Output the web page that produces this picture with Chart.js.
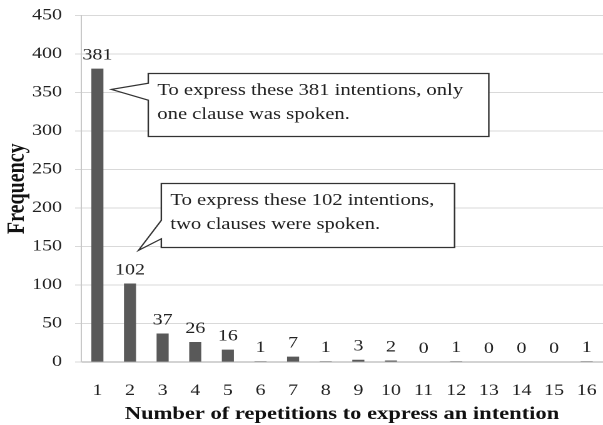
<!DOCTYPE html>
<html>
<head>
<meta charset="utf-8">
<script src="https://cdn.jsdelivr.net/npm/chart.js@4.4.0/dist/chart.umd.min.js"></script>
<style>
  html, body { margin: 0; padding: 0; background: #fff; overflow: hidden; }
  /* the reference figure is stretched horizontally, so the chart is drawn narrow and widened */
  #freqChart { transform: scaleX(1.251); transform-origin: 0 0; }
</style>
</head>
<body>
<canvas id="freqChart" width="482" height="425"></canvas>
<script>
// repetitions needed to express one intention
const repetitions = ["1", "2", "3", "4", "5", "6", "7", "8", "9", "10", "11", "12", "13", "14", "15", "16"];
const frequency = [381, 102, 37, 26, 16, 1, 7, 1, 3, 2, 0, 1, 0, 0, 0, 1];
const yTicks = [0, 50, 100, 150, 200, 250, 300, 350, 400, 450];

const callouts = [
  {
    lines: ["To express these 381 intentions, only", "one clause was spoken."],
    // box and pointer in data space: [category index, value]
    box: [1.56, 375, 12.0, 294],
    tip: [0.43, 354],
    base: [362, 340]
  },
  {
    lines: ["To express these 102 intentions,", "two clauses were spoken."],
    box: [1.96, 232, 10.95, 150],
    tip: [1.26, 145],
    base: [184, 160]
  }
];

const serif = "'Liberation Serif', 'Times New Roman', serif";

const labelsAndCallouts = {
  id: "labelsAndCallouts",
  afterDatasetsDraw(chart) {
    const ctx = chart.ctx;
    const meta = chart.getDatasetMeta(0);
    ctx.save();
    ctx.font = "16px " + serif;
    ctx.fillStyle = "#222";
    ctx.textAlign = "center";
    ctx.textBaseline = "alphabetic";
    meta.data.forEach((bar, i) => {
      ctx.fillText(String(frequency[i]), bar.x, bar.y - 9);
    });
    ctx.restore();
  },
  afterDraw(chart) {
    const ctx = chart.ctx;
    const xs = chart.scales.x, ys = chart.scales.y;
    ctx.save();
    callouts.forEach(c => {
      const l = xs.getPixelForValue(c.box[0]);
      const t = Math.round(ys.getPixelForValue(c.box[1])) + 0.5;
      const r = xs.getPixelForValue(c.box[2]);
      const b = Math.round(ys.getPixelForValue(c.box[3])) + 0.5;
      const tx = xs.getPixelForValue(c.tip[0]);
      const ty = ys.getPixelForValue(c.tip[1]);
      const b1 = ys.getPixelForValue(c.base[0]);
      const b2 = ys.getPixelForValue(c.base[1]);
      ctx.beginPath();
      ctx.moveTo(l, t);
      ctx.lineTo(r, t);
      ctx.lineTo(r, b);
      ctx.lineTo(l, b);
      ctx.lineTo(l, b2);
      ctx.lineTo(tx, ty);
      ctx.lineTo(l, b1);
      ctx.closePath();
      ctx.fillStyle = "#fff";
      ctx.fill();
      ctx.strokeStyle = "#333";
      ctx.lineWidth = 1.2;
      ctx.stroke();
      ctx.fillStyle = "#222";
      ctx.font = "16.5px " + serif;
      ctx.textAlign = "left";
      ctx.textBaseline = "middle";
      c.lines.forEach((line, k) => {
        ctx.fillText(line, l + 7.2, t + 17 + k * 24);
      });
    });
    ctx.restore();
  }
};

new Chart(document.getElementById("freqChart"), {
  type: "bar",
  data: {
    labels: repetitions,
    datasets: [{
      label: "Frequency",
      data: frequency,
      backgroundColor: "#595959",
      categoryPercentage: 1,
      barPercentage: 0.37
    }]
  },
  options: {
    responsive: false,
    devicePixelRatio: 2,
    animation: false,
    layout: { padding: { top: 15.5, right: 0, left: 0, bottom: 0 } },
    plugins: {
      legend: { display: false },
      tooltip: { enabled: false }
    },
    scales: {
      x: {
        grid: { display: false, drawTicks: false },
        border: { color: "#a6a6a6", width: 1 },
        ticks: { color: "#222", font: { family: serif, size: 16 }, padding: 19, maxRotation: 0, autoSkip: false },
        title: {
          display: true,
          text: "Number of repetitions to express an intention",
          color: "#111",
          font: { family: serif, size: 18, weight: "bold" },
          padding: { top: 0, bottom: 0 }
        },
        afterFit(scale) {
          scale.height = 63;
          scale.paddingLeft = 0;
          scale.paddingRight = 0;
        }
      },
      y: {
        min: 0,
        max: 450,
        afterBuildTicks(scale) { scale.ticks = yTicks.map(v => ({ value: v })); },
        grid: { color: "#d9d9d9", tickLength: 4.8, tickColor: "#d9d9d9" },
        border: { color: "#c8c8c8" },
        ticks: { color: "#222", font: { family: serif, size: 16 }, padding: 10.4 },
        title: {
          display: true,
          text: "Frequency",
          color: "#111",
          font: { family: serif, size: 20, weight: "bold" },
          padding: { top: 2, bottom: 0 }
        },
        afterFit(scale) {
          scale.width = 64.8;
          scale.paddingTop = 0;
          scale.paddingBottom = 0;
        }
      }
    }
  },
  plugins: [labelsAndCallouts]
});
</script>
</body>
</html>
